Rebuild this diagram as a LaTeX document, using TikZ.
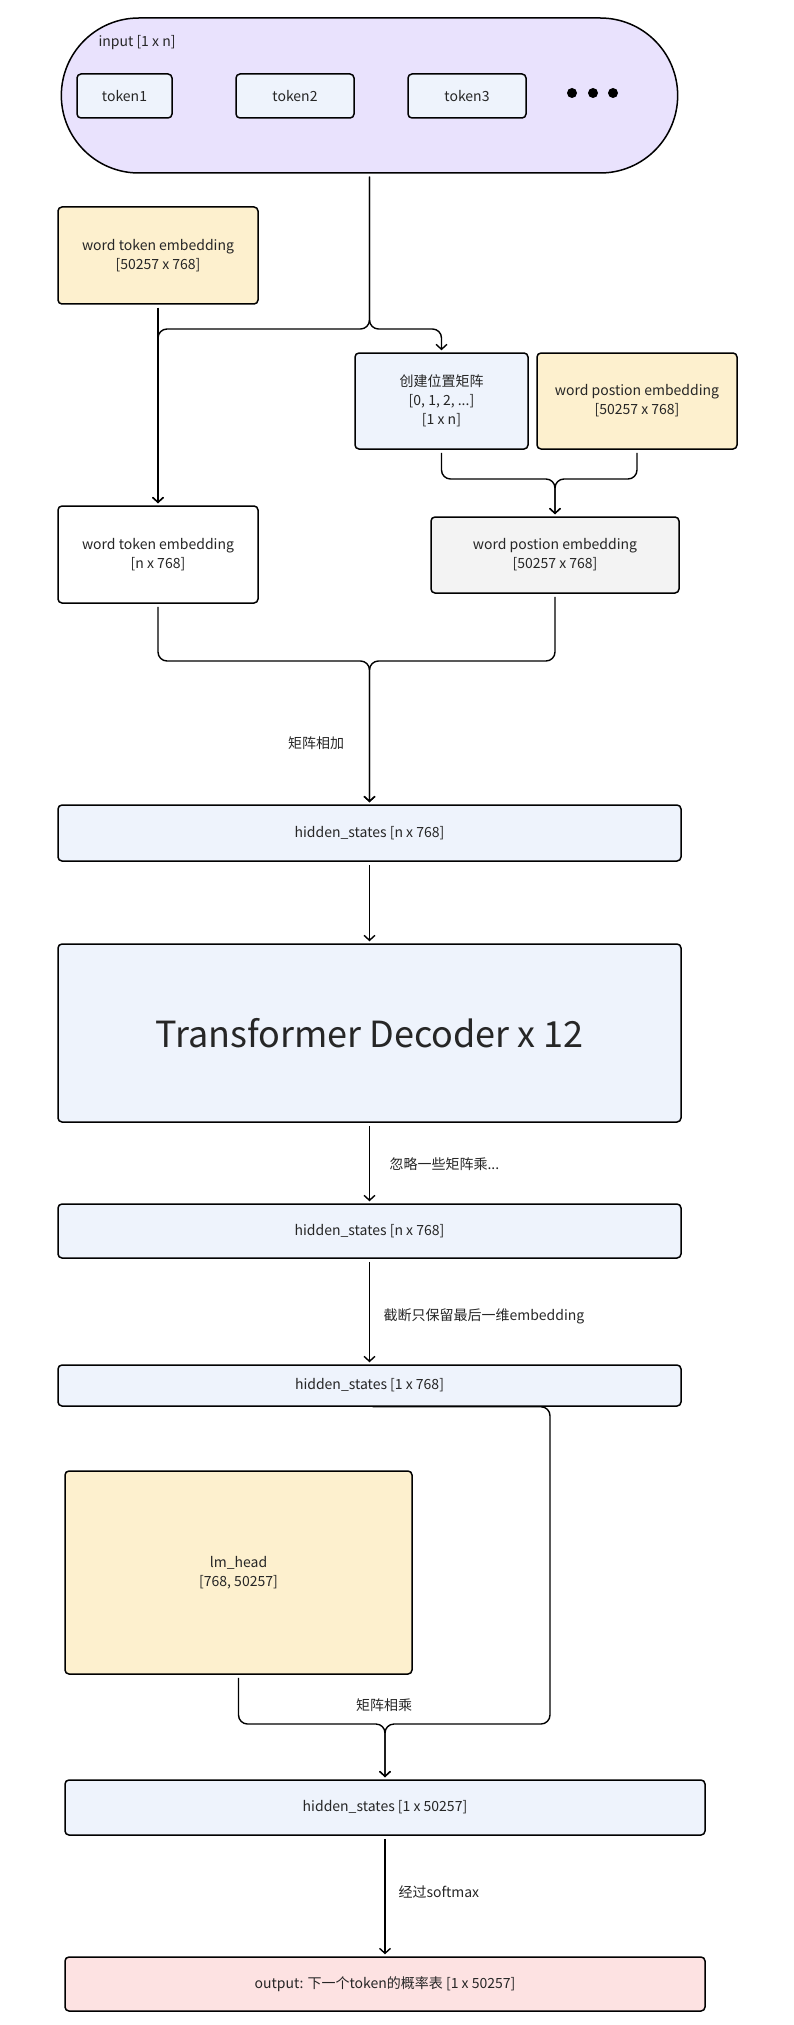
\documentclass[tikz,border=0pt]{standalone}
\usepackage{fontspec}
\setmainfont{Noto Sans CJK SC}
\usepackage{tikz}
\usetikzlibrary{
  arrows.meta,
  positioning,
  shapes.misc
}
\definecolor{inputfill}{HTML}{E9E2FD}
\definecolor{blockfill}{HTML}{EEF3FC}
\definecolor{weightfill}{HTML}{FDF0CE}
\definecolor{greyfill}{HTML}{F3F3F3}
\definecolor{outfill}{HTML}{FDE2E2}

\begin{document}
\begin{tikzpicture}[x=1pt, y=-1pt,
    every node/.style={font=\fontsize{14}{19}\selectfont, align=center, text=black!85},
    block/.style={draw, rectangle, rounded corners=4pt, line width=1.5pt, inner sep=0pt},
    hidden/.style={block, fill=blockfill, minimum width=623pt},
    weight/.style={block, fill=weightfill},
    link/.style={line width=1.4pt, rounded corners=9pt, shorten <=3pt, shorten >=2pt},
    arrow/.style={link, -{Straight Barb[length=5pt,width=11pt]}},
    note/.style={anchor=west}]
\useasboundingbox (0,0) rectangle (793,2025);

\node [draw, rounded rectangle, fill=inputfill, line width=1.5pt, minimum width=623pt, minimum height=155pt] (input) at (369.5,95.5) {};
\node [note] (inputlbl) at (95,43) {input [1 x n]};
\node [block, fill=blockfill, minimum width=95pt, minimum height=44pt] (tok1) at (124.5,96) {token1};
\node [block, fill=blockfill, minimum width=118pt, minimum height=44pt] (tok2) at (295,96) {token2};
\node [block, fill=blockfill, minimum width=118pt, minimum height=44pt] (tok3) at (467,96) {token3};
\foreach \x in {572,593,613}
  \fill (\x,93) circle (5pt);

\node [weight, minimum width=200pt, minimum height=97pt] (wte) at (158,255.5) {word token embedding\\\relax [50257 x 768]};
\node [block, fill=blockfill, minimum width=173pt, minimum height=96pt] (posidx) at (441.5,401) {创建位置矩阵\\\relax [0, 1, 2, ...]\\\relax [1 x n]};
\node [weight, minimum width=200pt, minimum height=96pt] (wpe) at (637,401) {word postion embedding\\\relax [50257 x 768]};
\node [block, fill=white, minimum width=200pt, minimum height=97pt] (wteout) at (158,554.5) {word token embedding\\\relax [n x 768]};
\node [block, fill=greyfill, minimum width=248pt, minimum height=76pt] (wpeout) at (555,555) {word postion embedding\\\relax [50257 x 768]};

\node [hidden, minimum height=56pt] (hsA) at (369.5,833) {hidden\_states [n x 768]};
\node [hidden, minimum height=178pt, font=\fontsize{36}{40}\selectfont] (decoder) at (369.5,1033) {Transformer Decoder x 12};
\node [hidden, minimum height=54pt] (hsB) at (369.5,1231) {hidden\_states [n x 768]};
\node [hidden, minimum height=41pt] (hsC) at (369.5,1385.5) {hidden\_states [1 x 768]};
\node [weight, minimum width=347pt, minimum height=203pt] (lmhead) at (238.5,1572.5) {lm\_head\\\relax [768, 50257]};
\node [block, fill=blockfill, minimum width=640pt, minimum height=55pt] (hsD) at (385,1807.5) {hidden\_states [1 x 50257]};
\node [block, fill=outfill, minimum width=640pt, minimum height=54pt] (output) at (385,1984) {output: 下一个token的概率表 [1 x 50257]};

\coordinate (split) at (369.5,329);
\coordinate (posjoin) at (555,479);
\coordinate (sumjoin) at (369.5,661);
\coordinate (mulright) at (550,1724);
\coordinate (muljoin) at (385,1724);

\draw [arrow] (input.south) -- (split) -| (wteout.north);
\draw [arrow] (input.south) -- (split) -| (posidx.north);
\draw [arrow] (wte.south) -- (wteout.north);
\draw [arrow] (posidx.south) |- (posjoin) -- (wpeout.north);
\draw [arrow] (wpe.south) |- (posjoin) -- (wpeout.north);
\draw [arrow] (wteout.south) |- (sumjoin) -- (hsA.north);
\draw [arrow] (wpeout.south) |- (sumjoin) -- (hsA.north);
\node (addlbl) at (316,743) {矩阵相加};

\draw [arrow] (hsA.south) -- (decoder.north);
\draw [arrow] (decoder.south) -- (hsB.north);
\node [note] (skiplbl) at (386,1164) {忽略一些矩阵乘...};
\draw [arrow] (hsB.south) -- (hsC.north);
\node [note] (cutlbl) at (380,1316) {截断只保留最后一维embedding};

\draw [arrow] (hsC.south) -| (mulright) -- (muljoin) -- (hsD.north);
\draw [arrow] (lmhead.south) |- (muljoin) -- (hsD.north);
\node (mullbl) at (384,1705) {矩阵相乘};

\draw [arrow] (hsD.south) -- (output.north);
\node [note] (softlbl) at (395,1892) {经过softmax};
\end{tikzpicture}
\end{document}
